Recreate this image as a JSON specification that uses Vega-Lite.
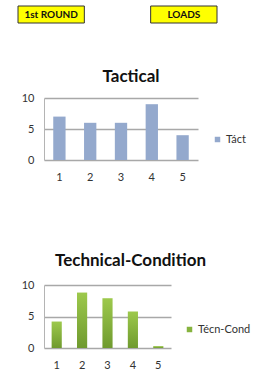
{
  "$schema": "https://vega.github.io/schema/vega-lite/v6.json",
  "background": "white",
  "padding": {"left": 17, "top": 5, "right": 0, "bottom": 0},
  "spacing": 44,
  "config": {
    "font": "Lato",
    "view": {"stroke": null},
    "axis": {"labelFont": "Lato", "labelFontSize": 11, "labelColor": "#333333", "ticks": false, "title": null},
    "axisY": {"labelPadding": 10, "grid": true, "values": [0, 5, 10], "domain": true, "domainColor": "#b4b4b4", "domainWidth": 1, "gridColor": "#a8a8a8", "gridWidth": 1.6},
    "axisX": {"labelPadding": 11, "labelAngle": 0, "grid": false, "domain": false},
    "title": {"fontSize": 17, "fontWeight": "bold", "font": "Lato", "color": "#111111", "frame": "group", "anchor": "middle", "offset": 6},
    "legend": {"orient": "none", "title": null, "symbolType": "square", "symbolSize": 30, "symbolStrokeWidth": 0, "labelFontSize": 11, "labelColor": "#333333", "labelFont": "Lato", "labelOffset": 3, "padding": 0}
  },
  "vconcat": [
    {
      "width": 199,
      "height": 17,
      "data": {"values": [{"col": "A", "label": "1st ROUND"}, {"col": "C", "label": "LOADS"}]},
      "layer": [
        {
          "mark": {"type": "rect", "fill": "#ffff00", "stroke": "#333333", "strokeWidth": 1, "xOffset": -26, "x2Offset": -26},
          "encoding": {"x": {"field": "col", "type": "nominal", "scale": {"domain": ["A", "B", "C"], "paddingInner": 0, "paddingOuter": 0}, "axis": null}}
        },
        {
          "mark": {"type": "text", "fontWeight": "bold", "fontSize": 10, "xOffset": -26, "color": "#111111"},
          "encoding": {"x": {"field": "col", "type": "nominal", "axis": null}, "text": {"field": "label"}}
        }
      ]
    },
    {
      "spacing": 70,
      "resolve": {"scale": {"color": "independent"}, "legend": {"color": "independent"}},
      "vconcat": [
        {
          "width": 154,
          "height": 62,
          "title": {"text": "Tactical", "dx": 10},
          "data": {"values": [
            {"round": 1, "value": 7, "series": "Táct"},
            {"round": 2, "value": 6, "series": "Táct"},
            {"round": 3, "value": 6, "series": "Táct"},
            {"round": 4, "value": 9, "series": "Táct"},
            {"round": 5, "value": 4, "series": "Táct"}
          ]},
          "mark": {"type": "bar"},
          "encoding": {
            "x": {"field": "round", "type": "ordinal", "scale": {"paddingInner": 0.6, "paddingOuter": 0.3}},
            "y": {"field": "value", "type": "quantitative", "scale": {"domain": [0, 10]}},
            "color": {"field": "series", "type": "nominal", "scale": {"range": ["#94a9cd"]}, "legend": {"legendX": 168, "legendY": 36}}
          }
        },
        {
          "width": 127,
          "height": 63,
          "title": {"text": "Technical-Condition", "dx": 23, "offset": 9},
          "data": {"values": [
            {"round": 1, "value": 4.2, "series": "Técn-Cond"},
            {"round": 2, "value": 8.8, "series": "Técn-Cond"},
            {"round": 3, "value": 7.9, "series": "Técn-Cond"},
            {"round": 4, "value": 5.8, "series": "Técn-Cond"},
            {"round": 5, "value": 0.3, "series": "Técn-Cond"}
          ]},
          "mark": {"type": "bar", "fill": {"gradient": "linear", "x1": 0, "y1": 0, "x2": 0, "y2": 1, "stops": [{"offset": 0, "color": "#9dc94c"}, {"offset": 1, "color": "#6f9a2e"}]}},
          "encoding": {
            "x": {"field": "round", "type": "ordinal", "scale": {"paddingInner": 0.6, "paddingOuter": 0.3}},
            "y": {"field": "value", "type": "quantitative", "scale": {"domain": [0, 10]}},
            "color": {"field": "series", "type": "nominal", "scale": {"range": ["#86b33e"]}, "legend": {"legendX": 140, "legendY": 39}}
          }
        }
      ]
    }
  ]
}
